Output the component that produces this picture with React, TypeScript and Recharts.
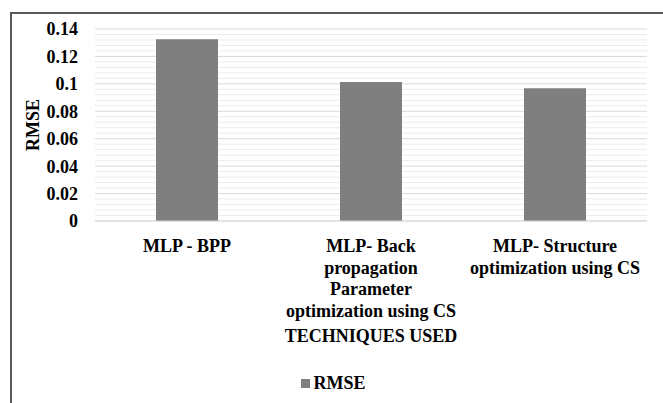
import React from 'react'
import { BarChart, Bar, XAxis, YAxis, CartesianGrid, Legend, Label } from 'recharts'

const categories = [
  'MLP - BPP',
  'MLP- Back\npropagation\nParameter\noptimization using CS',
  'MLP- Structure\noptimization using CS',
]
const rmseValues = [0.1325, 0.1013, 0.0968]
const yTicks = [0, 0.02, 0.04, 0.06, 0.08, 0.1, 0.12, 0.14]
const minorTicks = [
  0.004, 0.008, 0.012, 0.016,
  0.024, 0.028, 0.032, 0.036,
  0.044, 0.048, 0.052, 0.056,
  0.064, 0.068, 0.072, 0.076,
  0.084, 0.088, 0.092, 0.096,
  0.104, 0.108, 0.112, 0.116,
  0.124, 0.128, 0.132, 0.136,
]

const data = categories.map((name, i) => ({ name, RMSE: rmseValues[i] }))

const FONT = 'Liberation Serif'
const Y_MAX = yTicks[yTicks.length - 1]

const CategoryTick = ({ x, y, payload }: any) => {
  const lines = String(payload.value).split('\n')
  return (
    <text x={x} y={y + 29} textAnchor="middle" fontFamily={FONT} fontSize={18} fontWeight="bold" fill="#000">
      {lines.map((line, i) => (
        <tspan key={i} x={x} dy={i === 0 ? 0 : 21.7}>
          {line}
        </tspan>
      ))}
    </text>
  )
}

const LegendContent = () => (
  <div style={{ display: 'flex', alignItems: 'center', justifyContent: 'center', height: 22, fontFamily: FONT, fontSize: 18, fontWeight: 'bold', color: '#000', paddingLeft: 4 }}>
    <span style={{ display: 'inline-block', width: 9, height: 9, background: '#7f7f7f', marginRight: 3 }} />
    <span>RMSE</span>
  </div>
)

// minor gridlines every 0.004 (scale object differs between recharts builds)
const minorLines = ({ yAxis, offset }: any) =>
  minorTicks.map((v) => {
    const s = yAxis && yAxis.scale
    if (typeof s === 'function') return s(v)
    if (s && typeof s.map === 'function') return s.map(v)
    return offset.top + offset.height * (1 - v / Y_MAX)
  })

export default function App() {
  return (
    <div style={{ position: 'absolute', left: 0, top: 0, width: 663, height: 403, background: '#fff', overflow: 'hidden' }}>
      <div style={{ position: 'absolute', left: 10, top: 12, right: 0, bottom: 0, borderLeft: '2px solid #595959', borderTop: '2px solid #595959' }} />
      <BarChart width={663} height={403} data={data} margin={{ top: 29, right: 16, left: 0, bottom: 0 }}>
        <CartesianGrid vertical={false} stroke="#ececec" horizontalCoordinatesGenerator={minorLines} />
        <CartesianGrid vertical={false} stroke="#d9d9d9" />
        <XAxis
          dataKey="name"
          height={160}
          tick={<CategoryTick />}
          tickLine={false}
          tickSize={0}
          axisLine={{ stroke: '#d9d9d9' }}
          interval={0}
        >
          <Label
            content={({ viewBox }: any) => (
              <text x={viewBox.x + viewBox.width / 2} y={viewBox.y + 121} textAnchor="middle" fontFamily={FONT} fontSize={18} fontWeight="bold" fill="#000">
                TECHNIQUES USED
              </text>
            )}
          />
        </XAxis>
        <YAxis
          width={95}
          domain={[0, Y_MAX]}
          ticks={yTicks}
          tickLine={false}
          axisLine={false}
          tickSize={0}
          tickMargin={17}
          tick={{ fontFamily: FONT, fontSize: 18, fontWeight: 'bold', fill: '#000' }}
        >
          <Label
            content={({ viewBox }: any) => {
              const cx = viewBox.x + 33
              const cy = viewBox.y + viewBox.height / 2
              return (
                <text x={cx} y={cy} transform={`rotate(-90 ${cx} ${cy})`} textAnchor="middle" dominantBaseline="central" fontFamily={FONT} fontSize={18} fontWeight="bold" fill="#000">
                  RMSE
                </text>
              )
            }}
          />
        </YAxis>
        <Bar dataKey="RMSE" fill="#7f7f7f" barSize={62} isAnimationActive={false} />
        <Legend content={<LegendContent />} wrapperStyle={{ top: 372, left: 0, width: 663, height: 22 }} />
      </BarChart>
    </div>
  )
}
